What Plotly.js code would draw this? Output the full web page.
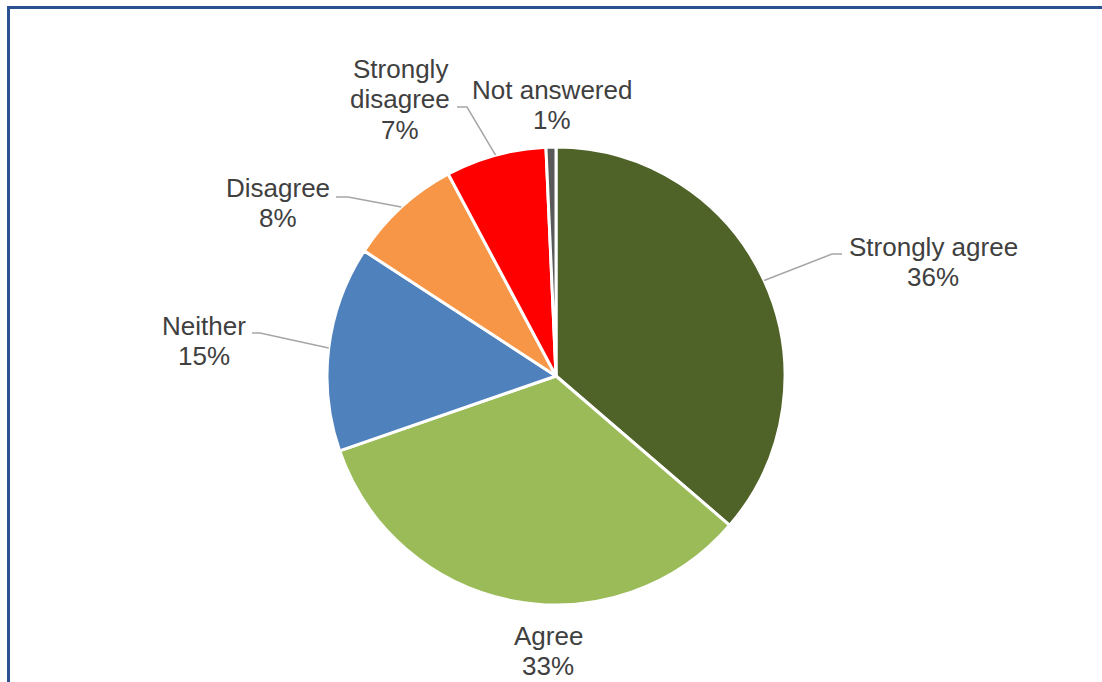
<!DOCTYPE html>
<html>
<head>
<meta charset="utf-8">
<script src="https://cdn.plot.ly/plotly-3.0.1.min.js"></script>
<style>
  html, body { margin: 0; padding: 0; background: #ffffff; }
  #chart { width: 1102px; height: 682px; position: absolute; left: 0; top: 0; }
  #frame { position: absolute; left: 7px; top: 6px; width: 1200px; height: 800px;
           border-left: 3px solid #2B5290; border-top: 3px solid #2B5290; pointer-events: none; }
</style>
</head>
<body>
<div id="chart"></div>
<div id="frame"></div>
<script>
// ---- data ----
const categories = ["Strongly agree", "Agree", "Neither", "Disagree", "Strongly disagree", "Not answered"];
const values = [36.3, 33.4, 14.5, 8.0, 7.1, 0.7];
const colors = ["#4F6228", "#9BBB59", "#4F81BD", "#F79646", "#FF0000", "#595959"];
const displayLines = [["Strongly agree"], ["Agree"], ["Neither"], ["Disagree"], ["Strongly", "disagree"], ["Not answered"]];

// ---- layout / label positions (pixels) ----
const W = 1102, H = 682;
const cx = 556, cy = 376, R = 229;
const lineGap = 30.5;
// text block centers
const labelPos = [[933, 262], [548, 651], [204, 341], [278, 203], [400, 99], [552, 105]];
// leader elbow points (label side) ; null = no leader
const leaderElbow = [[[842, 254], [832, 254]], null, [[252, 333], [260, 333]], [[336, 197], [348, 197]], [[457, 107], [467, 107]], null];

const total = values.reduce((a, b) => a + b, 0);
const px = x => x / W, py = y => 1 - y / H;

const annotations = [];
const shapes = [];
let cum = 0;
values.forEach((v, i) => {
  const mid = (cum + v / 2) / total * 2 * Math.PI;
  cum += v;
  const pct = Math.round(v / total * 100) + "%";
  const lines = displayLines[i].concat([pct]);
  const y0 = labelPos[i][1] - (lines.length - 1) * lineGap / 2;
  lines.forEach((t, k) => {
    annotations.push({
      xref: "paper", yref: "paper",
      x: px(labelPos[i][0]), y: py(y0 + k * lineGap),
      xanchor: "center", yanchor: "middle",
      text: t,
      showarrow: false,
      font: { family: "Liberation Sans, Arial, sans-serif", size: 26, color: "#404040" }
    });
  });
  if (leaderElbow[i]) {
    const ex = cx + R * Math.sin(mid), ey = cy - R * Math.cos(mid);
    const [a, b] = leaderElbow[i];
    shapes.push({
      type: "path", xref: "paper", yref: "paper",
      path: `M ${px(a[0])} ${py(a[1])} L ${px(b[0])} ${py(b[1])} L ${px(ex)} ${py(ey)}`,
      line: { color: "#A6A6A6", width: 1.5 }
    });
  }
});

const trace = {
  type: "pie",
  labels: categories,
  values: values,
  sort: false,
  direction: "clockwise",
  rotation: 0,
  marker: { colors: colors, line: { color: "#ffffff", width: 3 } },
  textinfo: "none",
  hoverinfo: "label+percent",
  automargin: false,
  domain: { x: [(cx - R) / W, (cx + R) / W], y: [1 - (cy + R) / H, 1 - (cy - R) / H] }
};

const layout = {
  width: W, height: H,
  margin: { l: 0, r: 0, t: 0, b: 0 },
  paper_bgcolor: "#ffffff",
  showlegend: false,
  annotations: annotations,
  shapes: shapes
};

Plotly.newPlot("chart", [trace], layout, { displayModeBar: false, staticPlot: true });
</script>
</body>
</html>
